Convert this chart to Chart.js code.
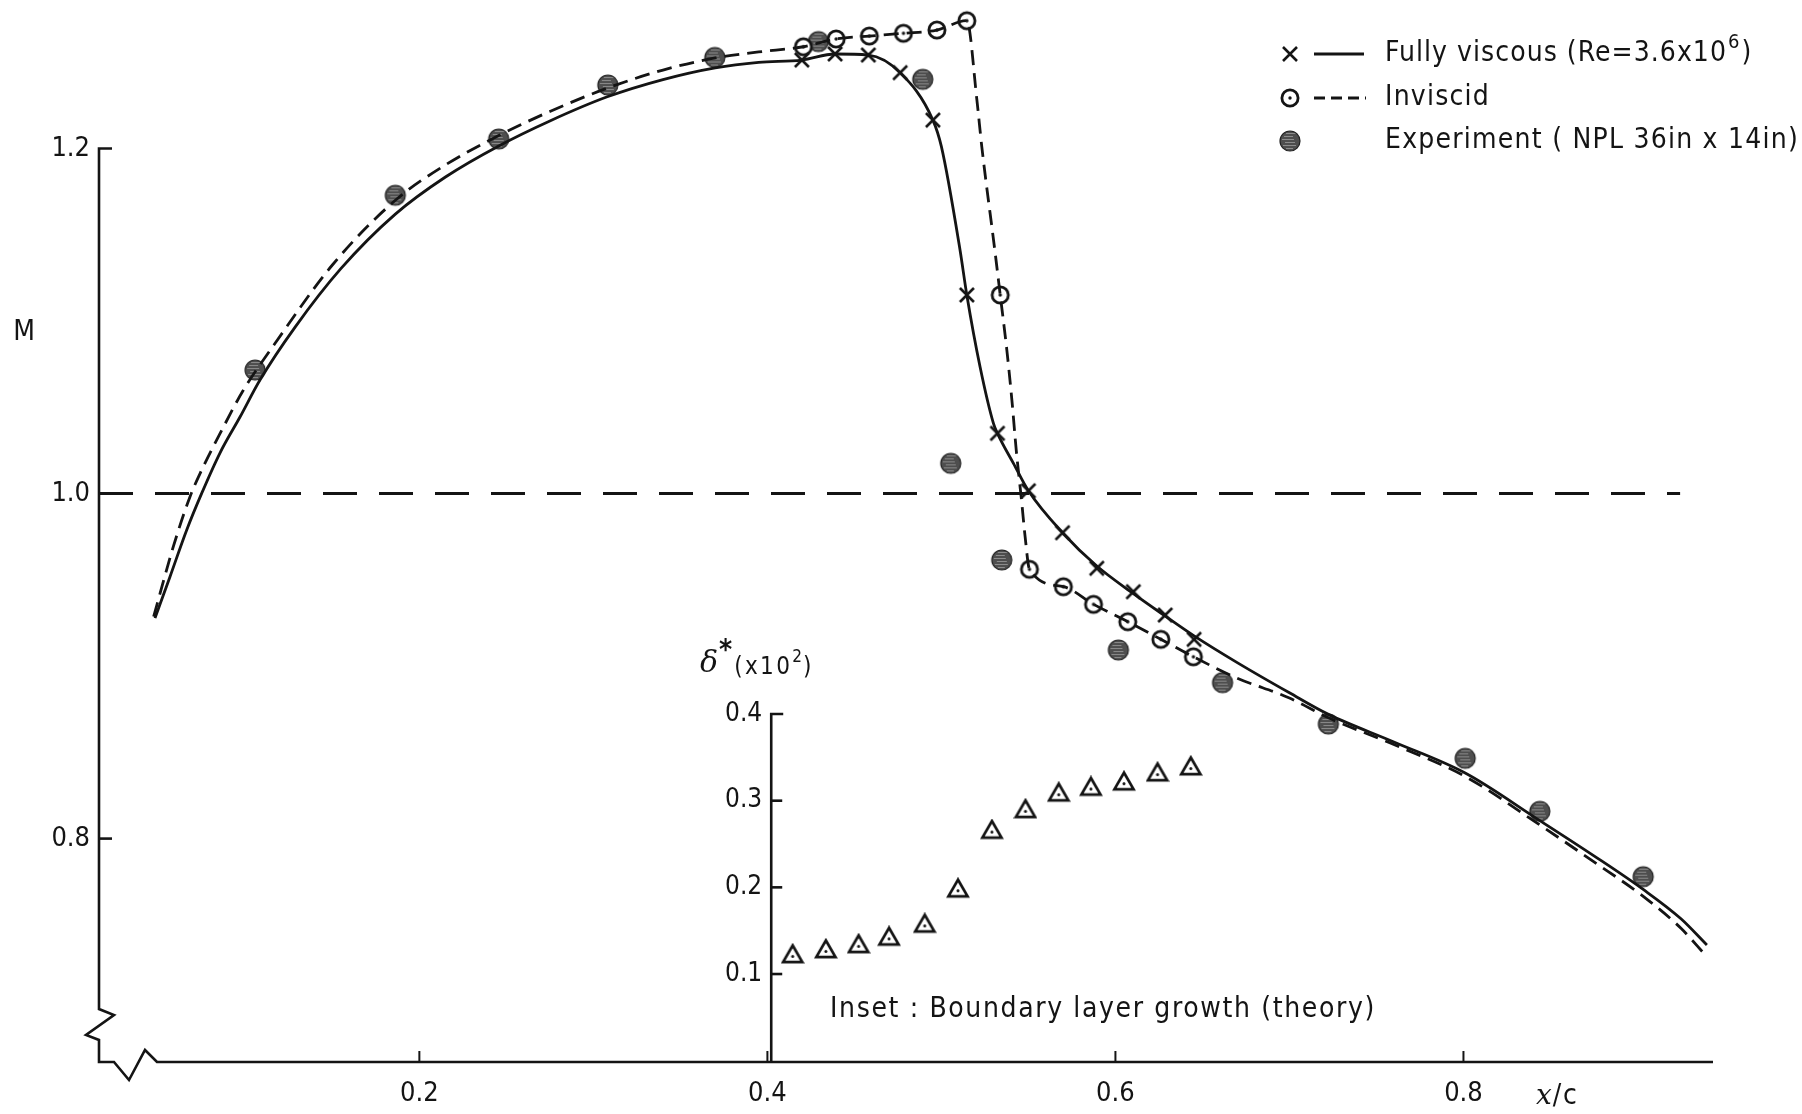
<!DOCTYPE html>
<html><head><meta charset="utf-8">
<script src="https://cdn.jsdelivr.net/npm/chart.js@4.4.0/dist/chart.umd.min.js"></script>
<style>html,body{margin:0;padding:0;background:#fff;}#wrap{width:1802px;height:1114px;}canvas{display:block;}</style>
</head><body><div id="wrap"><canvas id="c" width="1802" height="1114"></canvas></div>
<script>
// ---------- data ----------
const xTickValues = [0.2, 0.4, 0.6, 0.8];
const xTickLabels = ['0.2', '0.4', '0.6', '0.8'];
const mTickValues = [0.8, 1.0, 1.2];
const mTickLabels = ['0.8', '1.0', '1.2'];
const deltaTickValues = [0.1, 0.2, 0.3, 0.4];
const deltaTickLabels = ['0.1', '0.2', '0.3', '0.4'];

const sonicX = [0.0159, 0.9245];
const sonicM = [1.0, 1.0];

const viscousCurveX = [0.0481,0.0567,0.0663,0.0749,0.0854,0.097,0.1084,0.1286,0.155,0.1862,0.215,0.2456,0.275,0.308,0.34,0.37,0.395,0.4198,0.4389,0.458,0.4763,0.4951,0.50,0.5107,0.5146,0.5222,0.5299,0.5322,0.5414,0.55,0.5696,0.5893,0.6103,0.6286,0.6452,0.67,0.70,0.7224,0.76,0.801,0.843,0.875,0.9033,0.925,0.9399];
const viscousCurveM = [0.9278,0.9518,0.9789,1.0001,1.0235,1.0445,1.0658,1.0965,1.1305,1.162,1.1835,1.2015,1.216,1.23,1.24,1.2468,1.25,1.2513,1.2548,1.2542,1.244,1.2165,1.2011,1.1412,1.1151,1.0735,1.0407,1.0349,1.0175,1.0016,0.9773,0.958,0.942,0.929,0.9175,0.902,0.8845,0.872,0.856,0.838,0.811,0.790,0.7705,0.7535,0.7383];

const inviscidCurveX = [0.0473,0.0586,0.0682,0.0749,0.0855,0.0989,0.1171,0.15,0.1862,0.215,0.2456,0.275,0.308,0.34,0.37,0.395,0.4207,0.4395,0.4586,0.4782,0.4974,0.5146,0.5204,0.5232,0.5309,0.5338,0.5376,0.5405,0.543,0.5462,0.5481,0.5506,0.5701,0.5874,0.6071,0.6261,0.6448,0.67,0.70,0.7224,0.76,0.801,0.843,0.875,0.9033,0.925,0.939];
const inviscidCurveM = [0.9286,0.9692,0.9982,1.0136,1.0349,1.06,1.0871,1.1325,1.17,1.1905,1.2075,1.2215,1.235,1.2455,1.2525,1.256,1.259,1.2635,1.2652,1.2668,1.2687,1.2741,1.2281,1.2011,1.1394,1.1151,1.0832,1.0542,1.0252,0.9945,0.975,0.9561,0.946,0.9358,0.9257,0.9155,0.9054,0.893,0.8815,0.870,0.8545,0.836,0.8085,0.7865,0.7665,0.748,0.7325];

const viscousPointX = [0.4198,0.4389,0.458,0.4763,0.4951,0.5146,0.5322,0.55,0.5696,0.5893,0.6103,0.6286,0.6452];
const viscousPointM = [1.2513,1.2548,1.2542,1.2440,1.2165,1.1151,1.0349,1.0016,0.9773,0.9567,0.9431,0.9296,0.9155];

const inviscidPointX = [0.4207,0.4395,0.4586,0.4782,0.4974,0.5146,0.5338,0.5506,0.5701,0.5874,0.6071,0.6261,0.6448];
const inviscidPointM = [1.259,1.2635,1.2652,1.2668,1.2687,1.2741,1.1151,0.9561,0.946,0.9358,0.9257,0.9155,0.9054];

const experimentX = [0.1056,0.1862,0.2456,0.3083,0.3698,0.4293,0.4893,0.5054,0.5347,0.6017,0.6616,0.7224,0.801,0.8439,0.9033];
const experimentM = [1.0716,1.1729,1.2055,1.2368,1.2528,1.262,1.2401,1.0175,0.9615,0.9093,0.8904,0.8664,0.8465,0.8158,0.7779];

const insetX = [0.4145,0.4336,0.4524,0.4699,0.4904,0.5095,0.529,0.5483,0.5674,0.5859,0.6049,0.6242,0.6433];
const insetDelta = [0.1232,0.129,0.1348,0.1435,0.1585,0.199,0.2667,0.2906,0.3098,0.3164,0.3225,0.333,0.34];
const insetAxisAt = 0.4022;

// ---------- styling ----------
const INK = '#141414';
const NARROW = "'DejaVu Sans Condensed', 'DejaVu Sans', sans-serif";
const pts = (xs, ys) => xs.map((x, i) => ({x: x, y: ys[i]}));

function mk(w, h, draw) { const c = document.createElement('canvas'); c.width = w; c.height = h; draw(c.getContext('2d'), w, h); return c; }
const crossImg = mk(20, 20, g => { g.strokeStyle = INK; g.lineWidth = 2.6; g.beginPath(); g.moveTo(3, 3); g.lineTo(17, 17); g.moveTo(17, 3); g.lineTo(3, 17); g.stroke(); });
const ringImg = mk(24, 24, g => { g.beginPath(); g.arc(12, 12, 8.1, 0, Math.PI * 2); g.fillStyle = '#fff'; g.fill(); g.lineWidth = 2.8; g.strokeStyle = INK; g.stroke(); g.beginPath(); g.arc(12, 12, 1.7, 0, Math.PI * 2); g.fillStyle = INK; g.fill(); });
const expImg = mk(24, 24, g => {
  g.save(); g.beginPath(); g.arc(12, 12, 10, 0, Math.PI * 2); g.fillStyle = '#4e4e4e'; g.fill(); g.clip();
  g.strokeStyle = 'rgba(255,255,255,0.35)'; g.lineWidth = 1;
  for (let yy = 4; yy < 22; yy += 3) { g.beginPath(); g.moveTo(4 + (yy % 5), yy + 0.5); g.lineTo(18 - (yy % 4), yy + 0.5); g.stroke(); }
  g.restore(); g.beginPath(); g.arc(12, 12, 10, 0, Math.PI * 2); g.lineWidth = 1.2; g.strokeStyle = '#222'; g.stroke();
});
const triImg = mk(24, 22, g => { g.beginPath(); g.moveTo(12, 2.5); g.lineTo(21.6, 19.2); g.lineTo(2.4, 19.2); g.closePath(); g.fillStyle = '#fff'; g.fill(); g.lineWidth = 2.7; g.lineJoin = 'miter'; g.strokeStyle = INK; g.stroke(); g.beginPath(); g.arc(12, 13.5, 1.5, 0, Math.PI * 2); g.fillStyle = INK; g.fill(); });

function spaced(ctx, str, x, y, target) {
  ctx.letterSpacing = '0px';
  const w = ctx.measureText(str).width;
  const n = [...str].length;
  const sp = target ? Math.max(0, (target - w) / n) : 0;
  ctx.letterSpacing = sp + 'px';
  ctx.fillText(str, x, y);
  ctx.letterSpacing = '0px';
  return x + w + sp * n;
}

const decorPlugin = {
  id: 'decor',
  beforeDatasetsDraw(chart) {
    const {ctx, chartArea: ca, scales: {x, y, y2}} = chart;
    const L = ca.left, B = ca.bottom;
    ctx.save();
    ctx.strokeStyle = INK; ctx.lineWidth = 2.6; ctx.lineJoin = 'miter'; ctx.lineCap = 'butt';
    const yTop = y.getPixelForValue(mTickValues[mTickValues.length - 1]);
    ctx.beginPath();
    ctx.moveTo(L + 13, yTop); ctx.lineTo(L, yTop); ctx.lineTo(L, B - 53);
    ctx.lineTo(L + 15, B - 47); ctx.lineTo(L - 13, B - 27); ctx.lineTo(L, B - 22); ctx.lineTo(L, B);
    ctx.lineTo(L + 15, B); ctx.lineTo(L + 30, B + 18); ctx.lineTo(L + 46, B - 12); ctx.lineTo(L + 58, B);
    ctx.lineTo(ca.right, B);
    ctx.stroke();
    mTickValues.slice(0, -1).forEach(v => { const p = y.getPixelForValue(v); ctx.beginPath(); ctx.moveTo(L, p); ctx.lineTo(L + 13, p); ctx.stroke(); });
    ctx.lineWidth = 2;
    xTickValues.forEach(v => { const p = x.getPixelForValue(v); ctx.beginPath(); ctx.moveTo(p, B); ctx.lineTo(p, B - 11); ctx.stroke(); });
    // inset axis
    const ix = x.getPixelForValue(insetAxisAt);
    const iTop = y2.getPixelForValue(deltaTickValues[deltaTickValues.length - 1]);
    ctx.lineWidth = 2.6;
    ctx.beginPath(); ctx.moveTo(ix + 12, iTop); ctx.lineTo(ix, iTop); ctx.lineTo(ix, B); ctx.stroke();
    deltaTickValues.slice(0, -1).forEach(v => { const p = y2.getPixelForValue(v); ctx.beginPath(); ctx.moveTo(ix, p); ctx.lineTo(ix + 11, p); ctx.stroke(); });
    ctx.fillStyle = INK; ctx.font = '26px ' + NARROW; ctx.textAlign = 'right'; ctx.textBaseline = 'middle';
    deltaTickValues.forEach((v, i) => ctx.fillText(deltaTickLabels[i], ix - 9, y2.getPixelForValue(v)));
    ctx.restore();
  },
  afterDraw(chart) {
    const {ctx} = chart;
    ctx.save();
    ctx.fillStyle = INK; ctx.textBaseline = 'middle'; ctx.textAlign = 'left';
    // legend
    const mx = 1290, lx0 = 1314, lx1 = 1364, tx = 1385;
    const rows = [54, 98, 141];
    ctx.drawImage(crossImg, mx - 10, rows[0] - 10);
    ctx.drawImage(ringImg, mx - 12, rows[1] - 12);
    ctx.drawImage(expImg, mx - 12, rows[2] - 12);
    ctx.strokeStyle = INK; ctx.lineWidth = 2.8;
    ctx.beginPath(); ctx.moveTo(lx0, rows[0]); ctx.lineTo(lx1, rows[0]); ctx.stroke();
    ctx.setLineDash([11, 6]); ctx.beginPath(); ctx.moveTo(lx0, rows[1]); ctx.lineTo(lx1 + 2, rows[1]); ctx.stroke(); ctx.setLineDash([]);
    ctx.font = '28px ' + NARROW;
    let e = spaced(ctx, 'Fully viscous (Re=3.6x10', tx, rows[0], 342);
    ctx.font = '20px ' + NARROW; ctx.fillText('6', e + 1, rows[0] - 11);
    const w6 = ctx.measureText('6').width;
    ctx.font = '28px ' + NARROW; ctx.fillText(')', e + w6 + 3, rows[0]);
    spaced(ctx, 'Inviscid', tx, rows[1], 105);
    spaced(ctx, 'Experiment ( NPL 36in x 14in)', tx, rows[2], 414);
    // axis title M
    ctx.font = '28px ' + NARROW; ctx.textAlign = 'center';
    ctx.fillText('M', 24, 333);
    // inset title
    ctx.textAlign = 'left';
    ctx.font = 'italic 30px "DejaVu Serif", serif';
    ctx.fillText('\u03B4', 700, 664);
    let dx = 700 + ctx.measureText('\u03B4').width;
    ctx.font = 'bold 28px ' + NARROW; ctx.fillText('*', dx + 1, 652);
    dx += ctx.measureText('*').width + 3;
    ctx.font = '24px ' + NARROW;
    dx = spaced(ctx, '(x10', dx, 668, 58);
    ctx.font = '17px ' + NARROW; ctx.fillText('2', dx, 658);
    dx += ctx.measureText('2').width + 1;
    ctx.font = '24px ' + NARROW; ctx.fillText(')', dx, 668);
    // inset caption
    ctx.font = '28px ' + NARROW;
    spaced(ctx, 'Inset : Boundary layer growth (theory)', 830, 1010, 546);
    // x/c
    ctx.font = 'italic 28px "DejaVu Serif", serif';
    ctx.fillText('x', 1536, 1097);
    const wx = ctx.measureText('x').width;
    ctx.font = '28px ' + NARROW;
    spaced(ctx, '/c', 1536 + wx + 1, 1097, 26);
    ctx.restore();
  }
};

const tickFont = {family: NARROW, size: 27};
new Chart(document.getElementById('c'), {
  type: 'scatter',
  data: {
    datasets: [
      {data: pts(sonicX, sonicM), showLine: true, borderColor: INK, borderWidth: 3, borderDash: [34, 22], pointRadius: 0, tension: 0, clip: false},
      {data: pts(viscousCurveX, viscousCurveM), showLine: true, borderColor: INK, borderWidth: 2.8, cubicInterpolationMode: 'monotone', pointRadius: 0, clip: false},
      {data: pts(inviscidCurveX, inviscidCurveM), showLine: true, borderColor: INK, borderWidth: 2.8, borderDash: [15, 8], cubicInterpolationMode: 'monotone', pointRadius: 0, clip: false},
      {data: pts(viscousPointX, viscousPointM), showLine: false, pointStyle: crossImg, pointRadius: 9, clip: false},
      {data: pts(inviscidPointX, inviscidPointM), showLine: false, pointStyle: ringImg, pointRadius: 10, clip: false},
      {data: pts(experimentX, experimentM), showLine: false, pointStyle: expImg, pointRadius: 10, clip: false},
      {data: pts(insetX, insetDelta), yAxisID: 'y2', showLine: false, pointStyle: triImg, pointRadius: 10, clip: false}
    ]
  },
  options: {
    responsive: false, devicePixelRatio: 1, animation: false, events: [],
    layout: {autoPadding: false, padding: {left: 0, top: 0, right: 89, bottom: 0}},
    plugins: {legend: {display: false}, tooltip: {enabled: false}},
    scales: {
      x: {
        type: 'linear', position: 'bottom', min: 0.0159, max: 0.9434,
        grid: {display: false, drawTicks: false}, border: {display: false},
        ticks: {padding: 16, font: tickFont, color: INK, autoSkip: false, maxRotation: 0, callback: (v, i) => xTickLabels[i]},
        afterBuildTicks: s => { s.ticks = xTickValues.map(v => ({value: v})); },
        afterFit: s => { s.height = 52; s.paddingLeft = 0; s.paddingRight = 0; }
      },
      y: {
        type: 'linear', position: 'left', min: 0.6705, max: 1.2861,
        grid: {display: false, drawTicks: false}, border: {display: false},
        ticks: {padding: 9, font: tickFont, color: INK, autoSkip: false, callback: (v, i) => mTickLabels[i]},
        afterBuildTicks: s => { s.ticks = mTickValues.map(v => ({value: v})); },
        afterFit: s => { s.width = 99; s.paddingTop = 0; s.paddingBottom = 0; }
      },
      y2: {type: 'linear', position: 'right', display: false, min: -0.0015, max: 1.2238}
    }
  },
  plugins: [decorPlugin]
});
</script></body></html>
